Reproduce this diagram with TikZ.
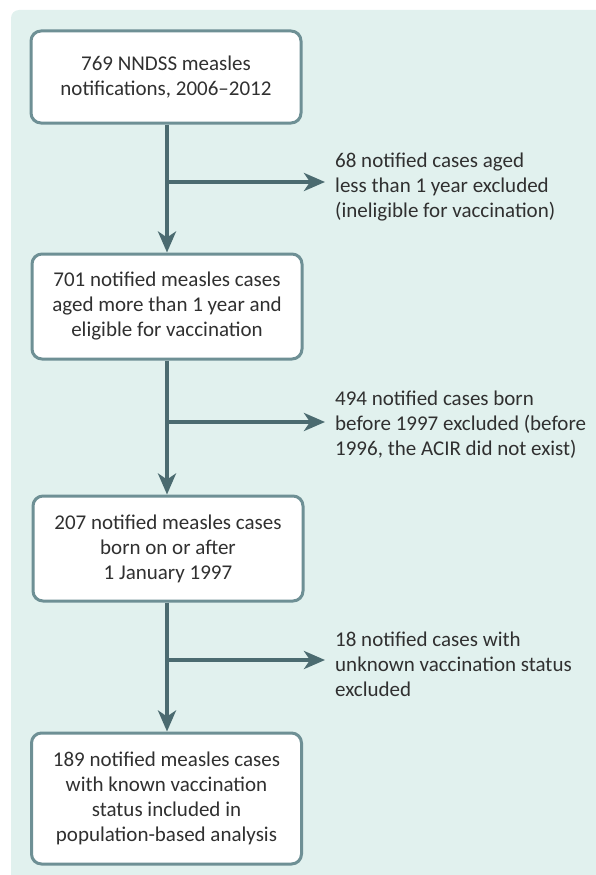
\documentclass[tikz,border=0pt]{standalone}
\usepackage{fontspec}
\setmainfont{Carlito}
\usetikzlibrary{arrows.meta,calc}
\definecolor{panel}{HTML}{E1F1EE}
\definecolor{boxline}{HTML}{6E9095}
\definecolor{arrowc}{HTML}{4B6B70}
\definecolor{txt}{HTML}{303030}
\begin{document}
\begin{tikzpicture}[x=1pt,y=-1pt,
  flowbox/.style={draw=boxline, line width=3pt, fill=white, rounded corners=10pt,
    minimum width=270pt, align=center, inner sep=0pt, text=txt,
    font=\fontsize{21}{25}\selectfont},
  sidelabel/.style={anchor=west, align=left, inner sep=0pt, text=txt,
    font=\fontsize{21}{25}\selectfont},
  flow/.style={draw=arrowc, line width=4pt,
    -{Stealth[length=21pt,width=18pt,inset=6pt]}}]
\useasboundingbox (0,0) rectangle (595,875);
\fill[panel, rounded corners=8pt] (11,10) rectangle (620,900);

\node[flowbox, minimum height=92pt] (b1) at (166,77)
  {769 NNDSS measles\\notifications, 2006--2012};
\node[flowbox, minimum height=105pt] (b2) at (167,306.5)
  {701 notified measles cases\\aged more than 1 year and\\eligible for vaccination};
\node[flowbox, minimum height=105pt] (b3) at (168,548.5)
  {207 notified measles cases\\born on or after\\1 January 1997};
\node[flowbox, minimum height=131pt] (b4) at (166.5,798.5)
  {189 notified measles cases\\with known vaccination\\status included in\\population-based analysis};

\coordinate (j1) at (167,182);
\coordinate (j2) at (167,422);
\coordinate (j3) at (167,660);

\node[sidelabel] (l1) at (335,187)
  {68 notified cases aged\\less than 1 year excluded\\(ineligible for vaccination)};
\node[sidelabel] (l2) at (335,425)
  {494 notified cases born\\before 1997 excluded (before\\1996, the ACIR did not exist)};
\node[sidelabel] (l3) at (335,664)
  {18 notified cases with\\unknown vaccination status\\excluded};

\draw[flow] (b1.south -| j1) -- (b2.north -| j1);
\draw[flow] (b2.south -| j2) -- (b3.north -| j2);
\draw[flow] (b3.south -| j3) -- (b4.north -| j3);

\draw[flow, shorten >=10pt] ($(j1)+(-2,0)$) -- (j1 -| l1.west);
\draw[flow, shorten >=10pt] ($(j2)+(-2,0)$) -- (j2 -| l2.west);
\draw[flow, shorten >=10pt] ($(j3)+(-2,0)$) -- (j3 -| l3.west);
\end{tikzpicture}
\end{document}
